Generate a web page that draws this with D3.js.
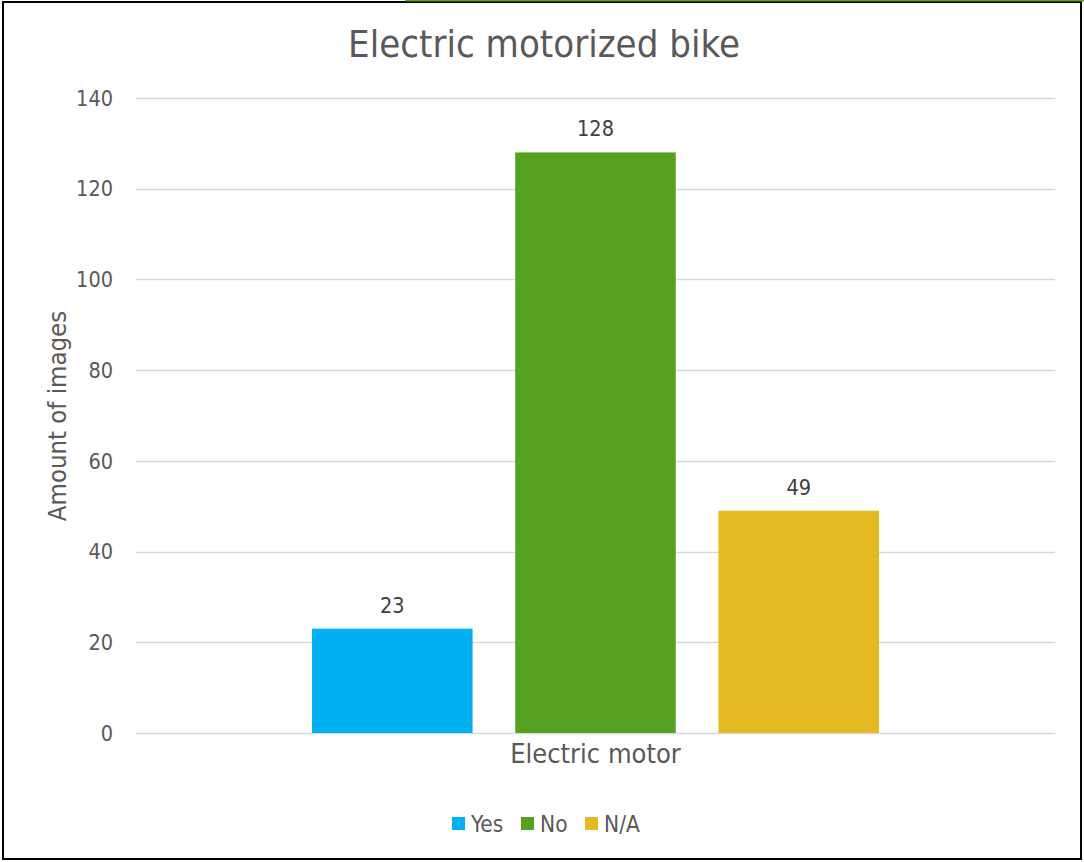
<!DOCTYPE html>
<html>
<head>
<meta charset="utf-8">
<script src="https://cdn.jsdelivr.net/npm/d3@7"></script>
<style>
  body { margin: 0; background: #fff; }
  text { font-family: "DejaVu Sans Condensed", "DejaVu Sans", sans-serif; fill: #595959; }
</style>
</head>
<body>
<div id="chart"></div>
<script>
var categories = ["Electric motor"];
var seriesNames = ["Yes", "No", "N/A"];
var seriesValues = [23, 128, 49];
var seriesColors = ["#00b0f0", "#56a122", "#e4b921"];
var yTicks = [0, 20, 40, 60, 80, 100, 120, 140];

var width = 1084, height = 862,
    margin = {left: 136, right: 29, top: 98, bottom: 129}; // plot area 136..1055 x 98..733

var svg = d3.select("#chart").append("svg")
    .attr("width", width)
    .attr("height", height);

// frame
svg.append("rect")
    .attr("x", 3).attr("y", 2)
    .attr("width", 1078).attr("height", 857)
    .attr("fill", "#fff")
    .attr("stroke", "#000")
    .attr("stroke-width", 2);
svg.append("line")
    .attr("x1", 405).attr("x2", width).attr("y1", 0.5).attr("y2", 0.5)
    .attr("stroke", "#56a122").attr("stroke-width", 2);

var x0 = d3.scaleBand()
    .domain(categories)
    .range([margin.left, width - margin.right]);

var x1 = d3.scaleBand()
    .domain(seriesNames)
    .range([x0(categories[0]) + 176, x0(categories[0]) + x0.bandwidth() - 176])
    .paddingInner(0.21);

var y = d3.scaleLinear()
    .domain([0, 140])
    .range([height - margin.bottom, margin.top]);

// gridlines
svg.append("g")
    .selectAll("line")
    .data(yTicks)
    .join("line")
    .attr("x1", margin.left)
    .attr("x2", width - margin.right)
    .attr("y1", d => Math.round(y(d)) + 0.5)
    .attr("y2", d => Math.round(y(d)) + 0.5)
    .attr("stroke", "#d9d9d9")
    .attr("stroke-width", 1.5);

// y tick labels
svg.append("g")
    .selectAll("text")
    .data(yTicks)
    .join("text")
    .attr("x", 113)
    .attr("y", d => y(d))
    .attr("dy", "0.36em")
    .attr("text-anchor", "end")
    .style("font-size", "21.5px")
    .text(d => d);

// bars
svg.append("g")
    .selectAll("rect")
    .data(seriesValues)
    .join("rect")
    .attr("x", (d, i) => x1(seriesNames[i]))
    .attr("width", x1.bandwidth())
    .attr("y", d => y(d))
    .attr("height", d => y(0) - y(d))
    .attr("fill", (d, i) => seriesColors[i]);

// data labels
svg.append("g")
    .selectAll("text")
    .data(seriesValues)
    .join("text")
    .attr("x", (d, i) => x1(seriesNames[i]) + x1.bandwidth() / 2)
    .attr("y", d => y(d) - 16)
    .attr("text-anchor", "middle")
    .style("font-size", "21.5px")
    .style("fill", "#404040")
    .text(d => d);

// category label
svg.append("text")
    .attr("x", x0(categories[0]) + x0.bandwidth() / 2)
    .attr("y", 763)
    .attr("text-anchor", "middle")
    .style("font-size", "27px")
    .text(categories[0]);

// title
svg.append("text")
    .attr("x", 544)
    .attr("y", 57)
    .attr("text-anchor", "middle")
    .style("font-size", "38px")
    .text("Electric motorized bike");

// y axis title
svg.append("text")
    .attr("transform", "translate(66,416) rotate(-90)")
    .attr("text-anchor", "middle")
    .style("font-size", "25.5px")
    .text("Amount of images");

// legend
var legendX = [452, 521, 585];
var legend = svg.append("g")
    .selectAll("g")
    .data(seriesNames)
    .join("g")
    .attr("transform", (d, i) => "translate(" + legendX[i] + ",817)");
legend.append("rect")
    .attr("width", 13).attr("height", 13)
    .attr("fill", (d, i) => seriesColors[i]);
legend.append("text")
    .attr("x", 19)
    .attr("y", 15)
    .style("font-size", "22.5px")
    .text(d => d);
</script>
</body>
</html>
